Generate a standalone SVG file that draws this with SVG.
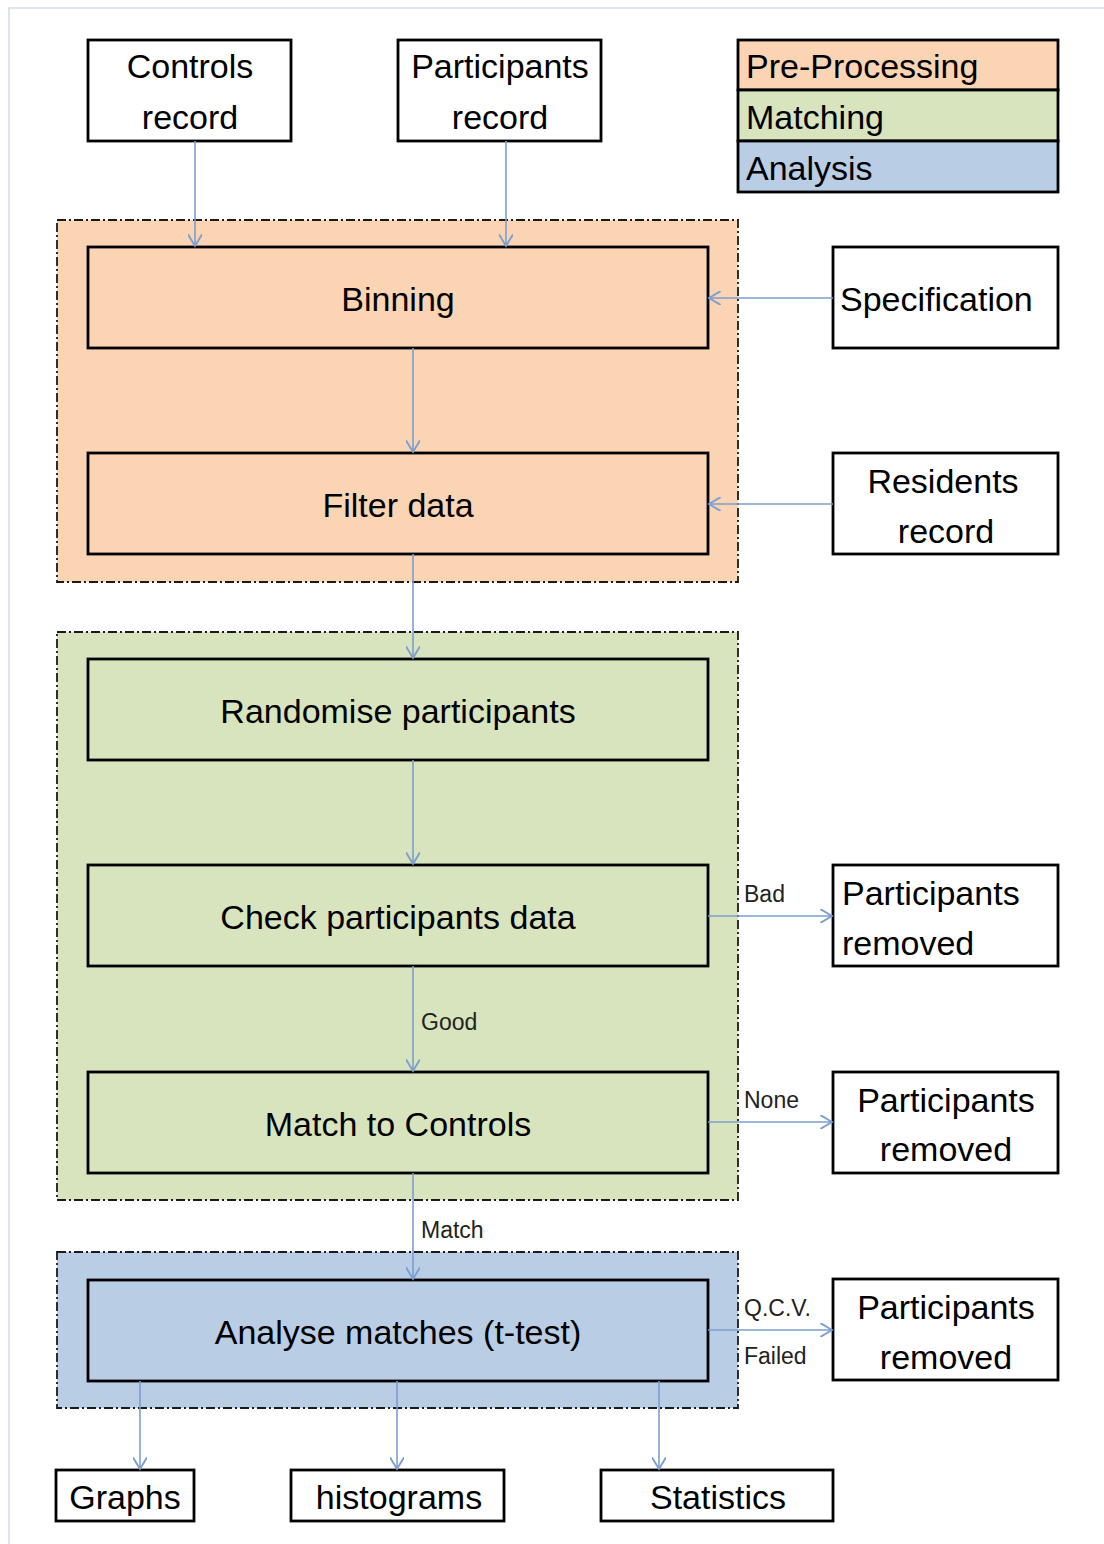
<svg xmlns="http://www.w3.org/2000/svg" width="1104" height="1544" viewBox="0 0 1104 1544">
<defs>
<style>
.box{fill:#fff;stroke:#000;stroke-width:2.8}
.t{font-family:"Liberation Sans",Arial,sans-serif;font-size:34px;fill:#000}
.c{text-anchor:middle}
.s{font-family:"Liberation Sans",Arial,sans-serif;font-size:23px;fill:#222}
.grp{stroke:#1a1a1a;stroke-width:1.8;stroke-dasharray:9 3 2 3}
.pre{fill:#fbd4b4}
.mat{fill:#d7e4bd}
.ana{fill:#b9cde5}
.con{stroke:#7c9fcf;stroke-width:1.6;fill:none;marker-end:url(#ah)}
</style>
<marker id="ah" markerUnits="userSpaceOnUse" markerWidth="14" markerHeight="14" refX="10" refY="6" orient="auto" viewBox="0 0 12 12">
<path d="M0,0 L10,6 L0,12" fill="none" stroke="#7c9fcf" stroke-width="1.6"/>
</marker>
</defs>
<rect width="1104" height="1544" fill="#fff"/>
<path d="M9,1544 V8 H1104" fill="none" stroke="#d3dbe6" stroke-width="1.5"/>

<g id="group-preprocessing"><rect class="grp pre" x="57" y="220" width="681" height="362"/></g>
<g id="group-matching"><rect class="grp mat" x="57" y="632" width="681" height="568"/></g>
<g id="group-analysis"><rect class="grp ana" x="57" y="1252" width="681" height="156"/></g>

<g id="legend">
<rect x="738" y="40" width="320" height="50" class="pre" stroke="#000" stroke-width="2.8"/>
<rect x="738" y="90" width="320" height="51" class="mat" stroke="#000" stroke-width="2.8"/>
<rect x="738" y="141" width="320" height="51" class="ana" stroke="#000" stroke-width="2.8"/>
<text class="t" x="746" y="78">Pre-Processing</text>
<text class="t" x="746" y="129">Matching</text>
<text class="t" x="746" y="180">Analysis</text>
</g>

<g id="controls-record"><rect class="box" x="88" y="40" width="203" height="101"/>
<text class="t c" x="190" y="78">Controls</text><text class="t c" x="190" y="129">record</text></g>
<g id="participants-record"><rect class="box" x="398" y="40" width="203" height="101"/>
<text class="t c" x="500" y="78">Participants</text><text class="t c" x="500" y="129">record</text></g>

<g id="binning"><rect class="box pre" x="88" y="247" width="620" height="101"/>
<text class="t c" x="398" y="311">Binning</text></g>
<g id="filter-data"><rect class="box pre" x="88" y="453" width="620" height="101"/>
<text class="t c" x="398" y="517">Filter data</text></g>
<g id="specification"><rect class="box" x="833" y="247" width="225" height="101"/>
<text class="t" x="840" y="311">Specification</text></g>
<g id="residents-record"><rect class="box" x="833" y="453" width="225" height="101"/>
<text class="t c" x="943" y="493">Residents</text><text class="t c" x="946" y="543">record</text></g>

<g id="randomise"><rect class="box mat" x="88" y="659" width="620" height="101"/>
<text class="t c" x="398" y="723">Randomise participants</text></g>
<g id="check"><rect class="box mat" x="88" y="865" width="620" height="101"/>
<text class="t c" x="398" y="929">Check participants data</text></g>
<g id="match-controls"><rect class="box mat" x="88" y="1072" width="620" height="101"/>
<text class="t c" x="398" y="1136">Match to Controls</text></g>

<g id="removed-1"><rect class="box" x="833" y="865" width="225" height="101"/>
<text class="t" x="842" y="905">Participants</text><text class="t" x="842" y="955">removed</text></g>
<g id="removed-2"><rect class="box" x="833" y="1072" width="225" height="101"/>
<text class="t c" x="946" y="1112">Participants</text><text class="t c" x="946" y="1161">removed</text></g>

<g id="analyse"><rect class="box ana" x="88" y="1280" width="620" height="101"/>
<text class="t c" x="398" y="1344">Analyse matches (t-test)</text></g>
<g id="removed-3"><rect class="box" x="833" y="1279" width="225" height="101"/>
<text class="t c" x="946" y="1319">Participants</text><text class="t c" x="946" y="1369">removed</text></g>

<g id="graphs"><rect class="box" x="56" y="1470" width="138" height="51"/>
<text class="t c" x="125" y="1509">Graphs</text></g>
<g id="histograms"><rect class="box" x="291" y="1470" width="213" height="51"/>
<text class="t c" x="399" y="1509">histograms</text></g>
<g id="statistics"><rect class="box" x="601" y="1470" width="232" height="51"/>
<text class="t c" x="718" y="1509">Statistics</text></g>

<g id="connectors">
<path class="con" d="M195,141 V246"/>
<path class="con" d="M506,141 V246"/>
<path class="con" d="M413,348 V452"/>
<path class="con" d="M413,554 V658"/>
<path class="con" d="M413,760 V864"/>
<path class="con" d="M413,966 V1071"/>
<path class="con" d="M413,1173 V1279"/>
<path class="con" d="M833,298 H709"/>
<path class="con" d="M833,504 H709"/>
<path class="con" d="M708,916 H832"/>
<path class="con" d="M708,1122 H832"/>
<path class="con" d="M708,1330 H832"/>
<path class="con" d="M140,1381 V1469"/>
<path class="con" d="M397,1381 V1469"/>
<path class="con" d="M659,1381 V1469"/>
<text class="s" x="421" y="1030">Good</text>
<text class="s" x="421" y="1238">Match</text>
<text class="s" x="744" y="902">Bad</text>
<text class="s" x="744" y="1108">None</text>
<text class="s" x="744" y="1316">Q.C.V.</text>
<text class="s" x="744" y="1364">Failed</text>
</g>
</svg>
